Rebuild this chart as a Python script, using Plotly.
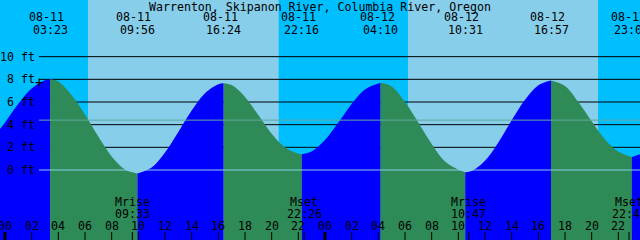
import plotly.graph_objects as go

# ---------------- data (hours from 08-11 00:00) ----------------
title_text = "Warrenton, Skipanon River, Columbia River, Oregon"

tide_dates = ["08-11", "08-11", "08-11", "08-11", "08-12", "08-12", "08-12", "08-12"]
tide_clock = ["03:23", "09:56", "16:24", "22:16", "04:10", "10:31", "16:57", "23:01"]
tide_hours = [3.383, 9.933, 16.4, 22.267, 28.167, 34.517, 40.95, 47.017]
tide_feet = [8.0, -0.3, 7.65, 1.4, 7.7, -0.2, 7.9, 1.15]

curve_hours = [-1, 0, 1, 2, 3, 3.383, 4, 5, 6, 7, 8, 9, 9.933, 11, 12, 13, 14, 15, 16, 16.4,
               17, 18, 19, 20, 21, 22, 22.267, 23, 24, 25, 26, 27, 28.167, 29, 30, 31, 32, 33,
               34, 34.517, 35, 36, 37, 38, 39, 40, 40.95, 42, 43, 44, 45, 46, 47.017, 48]
curve_feet = [2.7, 4.2, 5.85, 7.2, 7.93, 8.0, 7.82, 6.6, 4.9, 2.95, 1.2, 0.05, -0.3, 0.22, 1.54,
              3.35, 5.24, 6.77, 7.57, 7.65, 7.49, 6.45, 4.85, 3.2, 2.0, 1.43, 1.4, 1.64, 2.65,
              4.19, 5.83, 7.11, 7.7, 7.37, 6.0, 4.2, 2.3, 0.75, 0.03, -0.2, -0.09, 0.82, 2.43,
              4.38, 6.19, 7.48, 7.9, 7.42, 6.0, 4.3, 2.7, 1.63, 1.15, 1.55]

sunrise_hours = [6.225, 30.225]
sunset_hours = [20.525, 44.475]

moon_names = ["Mrise", "Mset", "Mrise", "Mset"]
moon_clock = ["09:33", "22:26", "10:47", "22:48"]
moon_hours = [9.55, 22.433, 34.783, 46.8]

grid_feet = [2, 4, 6, 8, 10]
label_feet = [10, 8, 6, 4, 2, 0]
mid_level_feet = 4.4
hour_ticks = list(range(0, 49, 2))

# ---------------- styling ----------------
NIGHT = "#00BFFF"
DAY = "#87CEEB"
RISE = "#0000FF"
FALL = "#2E8B57"
FONT = dict(family="DejaVu Sans Mono", size=11.6, color="black")
X_RANGE = [-0.375, 47.625]
Y_RANGE = [-6.176, 15.0]
GRID_X0 = 39 / 640

fig = go.Figure()

# tide fill, split at each high/low: blue while rising, green while falling
bounds = [curve_hours[0]] + [h for h in tide_hours if curve_hours[0] < h < curve_hours[-1]] + [curve_hours[-1]]
for a, b in zip(bounds[:-1], bounds[1:]):
    i0 = curve_hours.index(a)
    i1 = curve_hours.index(b)
    xs = curve_hours[i0:i1 + 1]
    ys = curve_feet[i0:i1 + 1]
    color = RISE if ys[-1] > ys[0] else FALL
    fig.add_trace(go.Scatter(x=[xs[0], xs[-1]], y=[-7, -7], mode="lines",
                             line=dict(width=0), hoverinfo="skip"))
    fig.add_trace(go.Scatter(x=xs, y=ys, mode="lines", fill="tonexty", fillcolor=color,
                             line=dict(width=0, shape="spline", color=color), hoverinfo="skip"))

shapes = []
# day / night background
shapes.append(dict(type="rect", xref="paper", yref="paper", x0=0, x1=1, y0=0, y1=1,
                   fillcolor=NIGHT, line=dict(width=0), layer="below"))
for sr, ss in zip(sunrise_hours, sunset_hours):
    shapes.append(dict(type="rect", xref="x", yref="paper", x0=sr, x1=ss, y0=0, y1=1,
                       fillcolor=DAY, line=dict(width=0), layer="below"))
# grid lines behind the tide
for f in grid_feet:
    shapes.append(dict(type="line", xref="paper", yref="y", x0=GRID_X0, x1=1, y0=f, y1=f,
                       line=dict(color="black", width=1), layer="below"))
# datum and mid-level lines on top
shapes.append(dict(type="line", xref="paper", yref="y", x0=GRID_X0, x1=1, y0=0, y1=0,
                   line=dict(color=DAY, width=1), layer="above"))
shapes.append(dict(type="line", xref="paper", yref="y", x0=GRID_X0, x1=1,
                   y0=mid_level_feet, y1=mid_level_feet,
                   line=dict(color="#62A89E", width=1), layer="above"))
# hour ticks
for h in hour_ticks:
    bold = h % 24 == 0
    shapes.append(dict(type="line", xref="x", yref="paper", x0=h, x1=h, y0=0, y1=8 / 240,
                       line=dict(color="black", width=3 if bold else 1), layer="above"))
# moon ticks
for h in moon_hours:
    shapes.append(dict(type="line", xref="x", yref="paper", x0=h, x1=h, y0=0, y1=8 / 240,
                       line=dict(color="black", width=1), layer="above"))

ann = []
ann.append(dict(text=title_text, xref="paper", yref="paper", x=0.5, y=1 - 6.5 / 240,
                xanchor="center", yanchor="middle", showarrow=False, font=FONT))
for d, c, h in zip(tide_dates, tide_clock, tide_hours):
    ann.append(dict(text=d, xref="x", yref="paper", x=h, y=1 - 17.5 / 240, xshift=-3.5,
                    xanchor="center", yanchor="middle", showarrow=False, font=FONT))
    ann.append(dict(text=c, xref="x", yref="paper", x=h, y=1 - 29.5 / 240,
                    xanchor="center", yanchor="middle", showarrow=False, font=FONT))
for f in label_feet:
    ann.append(dict(text=f"{f} ft", xref="paper", yref="y", x=37 / 640, y=f,
                    xanchor="right", yanchor="middle", showarrow=False, font=FONT))
for n, c, h in zip(moon_names, moon_clock, moon_hours):
    ann.append(dict(text=n, xref="x", yref="paper", x=h, y=1 - 201.5 / 240,
                    xanchor="center", yanchor="middle", showarrow=False, font=FONT))
    ann.append(dict(text=c, xref="x", yref="paper", x=h, y=1 - 213.5 / 240,
                    xanchor="center", yanchor="middle", showarrow=False, font=FONT))
for h in hour_ticks:
    ann.append(dict(text=f"{h % 24:02d}", xref="x", yref="paper", x=h, y=1 - 226 / 240,
                    xanchor="center", yanchor="middle", showarrow=False, font=FONT))
ann.append(dict(text="+", xref="paper", yref="paper", x=39 / 640, y=1 - 81.7 / 240,
                xanchor="center", yanchor="middle", showarrow=False,
                font=dict(family="DejaVu Sans Mono", size=14, color="black")))

fig.update_layout(
    width=640, height=240, margin=dict(l=0, r=0, t=0, b=0, pad=0),
    paper_bgcolor=NIGHT, plot_bgcolor=NIGHT, showlegend=False,
    xaxis=dict(range=X_RANGE, visible=False, fixedrange=True),
    yaxis=dict(range=Y_RANGE, visible=False, fixedrange=True),
    shapes=shapes, annotations=ann,
)

fig.write_html("out.html")
